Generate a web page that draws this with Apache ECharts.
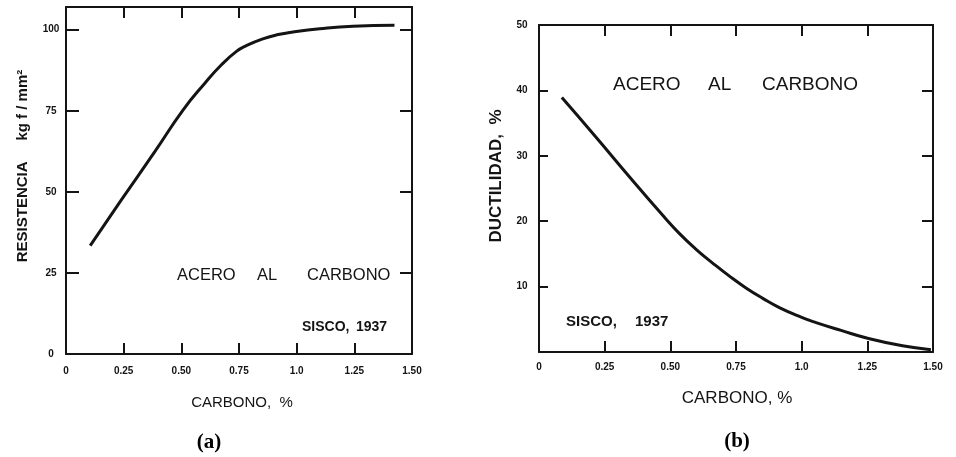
<!DOCTYPE html>
<html>
<head>
<meta charset="utf-8">
<script src="https://cdn.jsdelivr.net/npm/echarts@6/dist/echarts.min.js"></script>
<style>
  html, body { margin: 0; padding: 0; background: #fff; }
  #chart { width: 956px; height: 457px; }
</style>
</head>
<body>
<div id="chart"></div>
<script>
// (a) resistencia vs carbono
const carbonA = [0.105, 0.24, 0.385, 0.508, 0.602, 0.674, 0.739, 0.78, 0.85, 0.92, 0.984, 1.1, 1.244, 1.424]
const resistA = [33.4, 47.5, 62.4, 75.3, 83.5, 89.2, 93.3, 95.0, 97.1, 98.5, 99.3, 100.3, 101.1, 101.4]

// (b) ductilidad vs carbono
const carbonB = [0.087, 0.218, 0.344, 0.471, 0.535, 0.598, 0.661, 0.725, 0.788, 0.852, 0.915, 1.0, 1.055, 1.15, 1.251, 1.384, 1.492]
const ductB = [38.9, 32.8, 26.8, 20.9, 18.1, 15.7, 13.6, 11.6, 9.8, 8.2, 6.8, 5.3, 4.5, 3.3, 2.1, 0.95, 0.36]

const xTickLabels = ['0', '0.25', '0.50', '0.75', '1.0', '1.25', '1.50']
const yTicksA = ['0', '25', '50', '75', '100']
const yTicksB = ['', '10', '20', '30', '40', '50']

const ink = '#141414'
const font = 'Liberation Sans'

const xLabel = v => xTickLabels[Math.round(v / 0.25)] || ''

function frameAxis(gridIndex, position, extra) {
  return Object.assign({
    gridIndex,
    position,
    type: 'value',
    splitLine: { show: false },
    axisLine: { show: true, onZero: false, lineStyle: { color: ink, width: 2 } },
    axisTick: { show: true, inside: true, length: 11, lineStyle: { color: ink, width: 2 } },
    axisLabel: { show: false }
  }, extra)
}

const tickFont = { color: ink, fontFamily: font, fontWeight: 'bold', fontSize: 10 }

function word(x, y, text, size, weight) {
  return { type: 'text', x, y,
    style: { text, fill: ink, font: (weight || 'normal') + ' ' + size + 'px ' + font, align: 'left', verticalAlign: 'middle' } }
}

const chart = echarts.init(document.getElementById('chart'))

const option = {
  backgroundColor: '#fff',
  animation: false,
  grid: [
    { left: 66, top: 7, width: 346, height: 347 },
    { left: 539, top: 25, width: 394, height: 327 }
  ],
  xAxis: [
    frameAxis(0, 'bottom', { min: 0, max: 1.5, interval: 0.25,
      axisLabel: Object.assign({ show: true, margin: 12, formatter: xLabel }, tickFont) }),
    frameAxis(0, 'top', { min: 0, max: 1.5, interval: 0.25 }),
    frameAxis(1, 'bottom', { min: 0, max: 1.5, interval: 0.25,
      axisLabel: Object.assign({ show: true, margin: 10, formatter: xLabel }, tickFont) }),
    frameAxis(1, 'top', { min: 0, max: 1.5, interval: 0.25 })
  ],
  yAxis: [
    frameAxis(0, 'left', { min: 0, max: 107, interval: 25,
      axisTick: { show: true, inside: true, length: 13, lineStyle: { color: ink, width: 2 } },
      axisLabel: Object.assign({ show: true, margin: 15, align: 'center', showMaxLabel: false,
        formatter: v => yTicksA[Math.round(v / 25)] || '' }, tickFont) }),
    frameAxis(0, 'right', { min: 0, max: 107, interval: 25,
      axisTick: { show: true, inside: true, length: 12, lineStyle: { color: ink, width: 2 } } }),
    frameAxis(1, 'left', { min: 0, max: 50, interval: 10,
      axisTick: { show: true, inside: true, length: 9, lineStyle: { color: ink, width: 2 } },
      axisLabel: Object.assign({ show: true, margin: 17, align: 'center',
        formatter: v => yTicksB[Math.round(v / 10)] || '' }, tickFont) }),
    frameAxis(1, 'right', { min: 0, max: 50, interval: 10,
      axisTick: { show: true, inside: true, length: 11, lineStyle: { color: ink, width: 2 } } })
  ],
  series: [
    {
      type: 'line', xAxisIndex: 0, yAxisIndex: 0,
      data: carbonA.map((c, i) => [c, resistA[i]]),
      smooth: 0.5, symbol: 'none',
      lineStyle: { color: ink, width: 3 }
    },
    {
      type: 'line', xAxisIndex: 2, yAxisIndex: 2,
      data: carbonB.map((c, i) => [c, ductB[i]]),
      smooth: 0.5, symbol: 'none',
      lineStyle: { color: ink, width: 3 }
    }
  ],
  graphic: [
    // (a)
    { type: 'text', x: 23, y: 166, rotation: Math.PI / 2,
      style: { text: 'RESISTENCIA     kg f / mm²', fill: ink, font: 'bold 15px ' + font, align: 'center', verticalAlign: 'middle' } },
    { type: 'text', x: 242, y: 403,
      style: { text: 'CARBONO,  %', fill: ink, font: '15px ' + font, align: 'center', verticalAlign: 'middle' } },
    word(177, 275, 'ACERO', 16.5),
    word(257, 275, 'AL', 16.5),
    word(307, 275, 'CARBONO', 16.5),
    word(302, 327, 'SISCO,', 14, 'bold'),
    word(356, 327, '1937', 14, 'bold'),
    { type: 'text', x: 209, y: 443,
      style: { text: '(a)', fill: '#000', font: 'bold 21px Liberation Serif', align: 'center', verticalAlign: 'middle' } },
    // (b)
    { type: 'text', x: 496, y: 176, rotation: Math.PI / 2,
      style: { text: 'DUCTILIDAD,  %', fill: ink, font: 'bold 17px ' + font, align: 'center', verticalAlign: 'middle' } },
    { type: 'text', x: 737, y: 398,
      style: { text: 'CARBONO, %', fill: ink, font: '17px ' + font, align: 'center', verticalAlign: 'middle' } },
    word(613, 85, 'ACERO', 19),
    word(708, 85, 'AL', 19),
    word(762, 85, 'CARBONO', 19),
    word(566, 322, 'SISCO,', 15, 'bold'),
    word(635, 322, '1937', 15, 'bold'),
    { type: 'text', x: 737, y: 442,
      style: { text: '(b)', fill: '#000', font: 'bold 21px Liberation Serif', align: 'center', verticalAlign: 'middle' } }
  ]
}

chart.setOption(option)
</script>
</body>
</html>
